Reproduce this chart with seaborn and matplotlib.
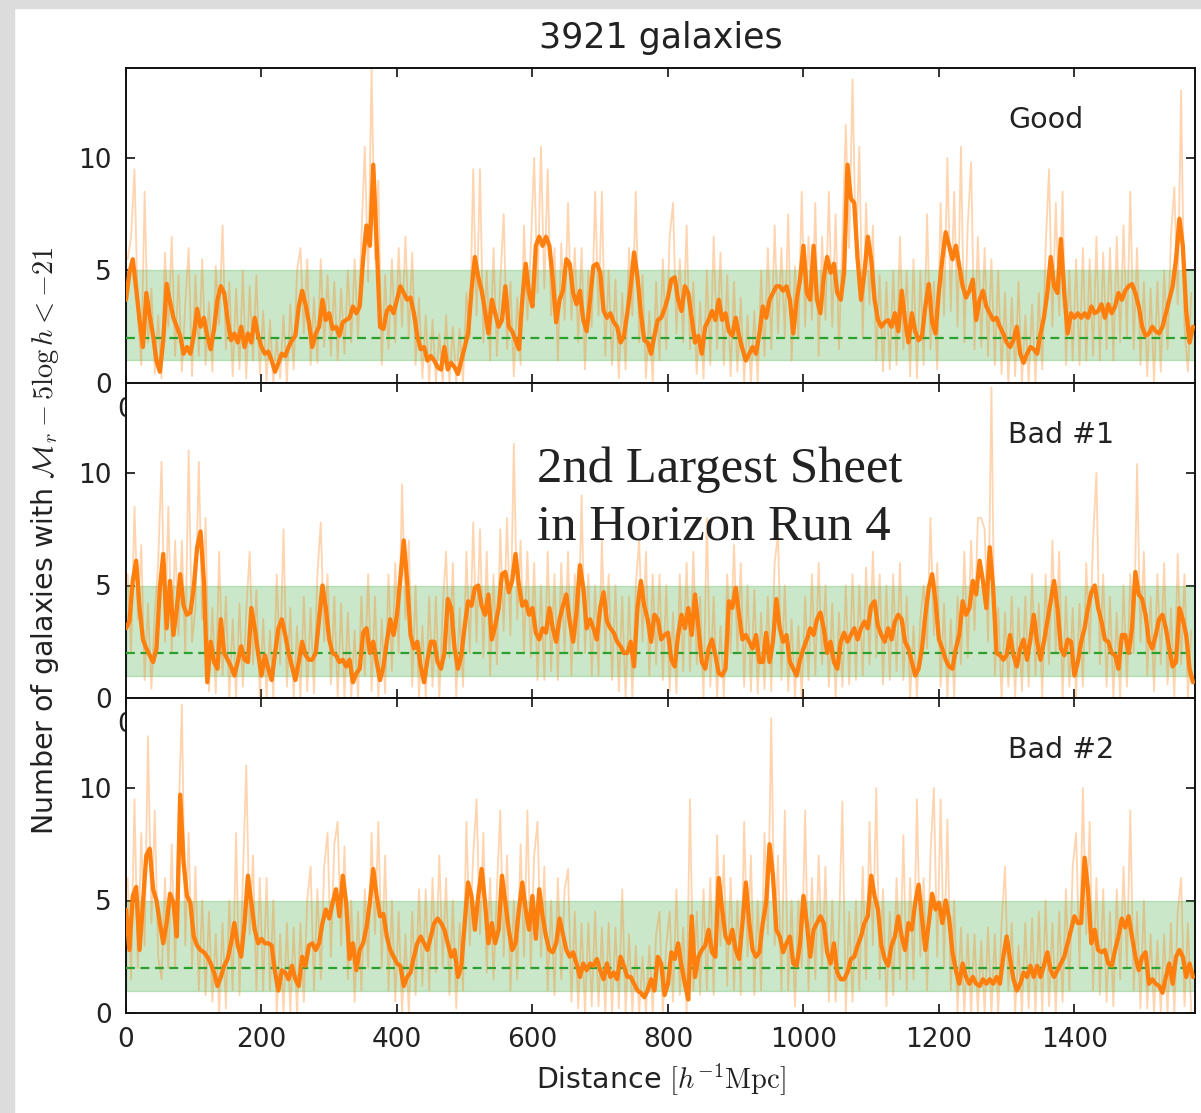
import numpy as np
import matplotlib
matplotlib.use("Agg")
import matplotlib.pyplot as plt
import seaborn as sns
from matplotlib.patches import Rectangle

sns.set_style("ticks")
plt.rcParams["font.family"] = ["DejaVu Sans"]
plt.rcParams["mathtext.fontset"] = "cm"

# ---- data (step 5 h^-1 Mpc) ----
step = 5
panel_names = ["Good", "Bad #1", "Bad #2"]
xticks = [0, 200, 400, 600, 800, 1000, 1200, 1400]
yticks = [0, 5, 10]
band_lo, band_hi, mean_level = 1, 5, 2

good_smooth = [
    3.7, 4.9, 5.5, 4.2, 2.8, 1.6, 4.0, 3.0, 2.1, 1.0,
    0.5, 1.9, 4.4, 3.6, 2.9, 2.5, 2.1, 1.3, 1.6, 1.3,
    2.1, 3.3, 2.5, 2.9, 2.1, 1.5, 2.4, 3.7, 4.3, 4.0,
    2.8, 1.9, 2.2, 1.8, 2.5, 1.6, 2.2, 1.8, 2.9, 2.1,
    1.6, 1.3, 1.4, 1.0, 0.5, 0.9, 1.3, 1.2, 1.6, 1.9,
    2.1, 3.4, 4.1, 3.5, 2.7, 1.6, 2.2, 2.5, 3.7, 2.8,
    3.1, 2.4, 2.5, 2.1, 2.7, 2.8, 2.9, 3.4, 3.1, 3.4,
    5.5, 7.0, 6.1, 9.7, 6.2, 2.5, 2.4, 3.2, 3.4, 3.1,
    3.7, 4.3, 4.0, 3.7, 3.8, 3.1, 2.1, 1.5, 1.6, 1.0,
    1.2, 1.0, 0.7, 0.6, 1.6, 0.6, 0.9, 0.7, 0.4, 1.0,
    1.6, 2.2, 4.1, 5.6, 4.7, 4.1, 3.2, 2.2, 3.7, 3.1,
    2.5, 2.8, 4.3, 2.5, 2.3, 1.9, 1.5, 3.7, 5.3, 4.0,
    3.4, 6.1, 6.5, 6.1, 6.5, 6.1, 4.6, 2.7, 3.7, 4.1,
    5.5, 5.3, 4.0, 3.5, 4.1, 2.8, 2.3, 3.7, 5.2, 5.3,
    4.9, 3.2, 2.9, 3.1, 2.7, 2.5, 1.8, 2.1, 3.1, 4.3,
    5.8, 4.7, 3.1, 1.9, 1.8, 1.3, 2.1, 2.8, 2.9, 3.3,
    3.8, 4.6, 4.7, 3.7, 3.2, 4.3, 4.0, 2.9, 1.8, 2.1,
    1.3, 2.5, 2.8, 3.2, 2.8, 3.7, 2.8, 3.1, 2.3, 2.1,
    2.9, 2.1, 1.5, 1.0, 1.3, 1.6, 1.3, 2.2, 3.4, 2.9,
    3.7, 4.0, 4.3, 4.3, 4.1, 4.3, 3.7, 2.2, 3.7, 4.6,
    6.1, 4.0, 3.7, 6.1, 3.7, 3.1, 4.7, 5.6, 4.9, 5.3,
    4.0, 3.7, 4.9, 9.7, 8.2, 8.0, 5.5, 3.7, 4.9, 6.5,
    5.5, 3.7, 2.8, 2.5, 2.7, 2.8, 2.5, 3.1, 2.3, 4.1,
    2.8, 1.8, 3.1, 2.3, 1.9, 2.1, 3.4, 4.4, 2.7, 2.2,
    4.1, 5.5, 6.7, 6.1, 5.5, 6.1, 5.2, 4.3, 3.8, 4.1,
    4.6, 2.8, 3.7, 4.1, 3.4, 3.1, 2.8, 2.9, 2.5, 2.2,
    1.8, 1.6, 1.9, 2.5, 1.3, 0.9, 1.3, 1.6, 1.5, 1.3,
    2.2, 2.9, 4.0, 5.6, 4.3, 4.0, 6.4, 4.0, 2.2, 3.1,
    2.9, 3.1, 2.9, 3.1, 2.9, 3.4, 3.1, 3.2, 3.5, 2.9,
    3.5, 3.1, 3.4, 4.0, 3.7, 4.1, 4.3, 4.4, 4.0, 3.4,
    2.5, 2.1, 2.2, 2.5, 2.3, 2.2, 2.5, 3.1, 3.7, 4.3,
    5.5, 7.3, 6.1, 3.2, 1.8, 2.5,
]
good_raw = [
    5.5, 6.5, 9.5, 3.0, 0.8, 8.5, 1.8, 4.2, 0.4, 3.0,
    0.2, 5.8, 2.5, 6.5, 1.2, 4.8, 0.5, 3.5, 6.0, 0.3,
    4.8, 1.2, 5.5, 0.8, 3.6, 0.5, 5.2, 2.6, 7.0, 1.5,
    4.5, 0.3, 4.2, 0.6, 5.0, 0.2, 4.3, 1.0, 4.8, 0.4,
    3.2, 0.1, 2.8, 0.0, 2.0, 0.2, 3.0, 0.0, 3.5, 0.6,
    5.0, 6.0, 2.2, 5.5, 0.8, 3.8, 0.9, 5.5, 1.6, 4.8,
    1.2, 4.5, 1.0, 4.2, 1.3, 5.0, 1.8, 5.5, 2.0, 6.5,
    10.5, 4.5, 14.0, 5.5, 9.0, 0.8, 4.8, 1.5, 5.5, 1.8,
    6.0, 2.5, 6.5, 2.0, 5.8, 0.8, 3.8, 0.2, 3.0, 0.0,
    2.8, 0.0, 2.2, 0.0, 3.0, 0.0, 2.5, 0.0, 2.4, 0.0,
    4.0, 2.0, 9.5, 3.0, 9.5, 1.8, 5.0, 1.0, 6.0, 1.2,
    4.5, 7.5, 1.5, 4.5, 0.3, 3.8, 0.8, 7.0, 2.8, 6.0,
    10.0, 4.0, 10.5, 4.2, 9.5, 3.0, 6.0, 1.0, 6.2, 2.8,
    8.0, 2.8, 6.0, 1.8, 6.0, 0.6, 5.0, 2.5, 8.5, 3.0,
    8.5, 1.2, 5.0, 0.8, 4.6, 0.2, 4.0, 0.6, 6.0, 3.0,
    8.5, 1.8, 4.8, 0.2, 3.2, 0.0, 4.5, 1.0, 5.5, 1.5,
    6.5, 8.0, 2.2, 5.5, 1.8, 7.0, 1.5, 4.5, 0.4, 3.6,
    0.2, 5.0, 0.8, 6.5, 1.5, 5.8, 0.8, 4.8, 0.3, 4.5,
    0.5, 3.8, 0.0, 3.0, 0.0, 3.2, 0.0, 5.0, 1.2, 6.0,
    1.5, 7.0, 2.2, 6.0, 2.0, 7.5, 1.0, 5.2, 2.0, 8.5,
    2.5, 6.5, 2.8, 8.0, 1.2, 6.5, 2.8, 8.5, 2.5, 7.5,
    1.5, 6.5, 11.5, 6.0, 13.5, 5.5, 10.5, 2.0, 8.0, 3.5,
    7.0, 1.0, 4.8, 0.5, 4.5, 0.6, 5.0, 0.8, 6.5, 1.5,
    5.0, 0.3, 5.5, 0.2, 5.0, 0.8, 7.5, 1.5, 4.5, 0.6,
    8.0, 3.0, 10.0, 3.2, 8.5, 2.5, 10.5, 1.8, 7.0, 9.8,
    1.5, 6.5, 1.6, 6.0, 1.2, 5.5, 0.8, 5.0, 0.4, 4.0,
    0.0, 3.8, 0.3, 4.5, 0.0, 3.0, 0.0, 3.5, 0.0, 4.0,
    0.6, 6.0, 9.5, 2.5, 8.0, 3.0, 8.5, 0.8, 5.0, 1.0,
    5.5, 0.8, 6.0, 1.0, 5.5, 1.2, 6.5, 1.0, 5.8, 1.5,
    6.0, 1.0, 6.5, 1.8, 7.0, 2.0, 8.5, 1.5, 6.0, 0.8,
    4.5, 0.3, 4.2, 0.0, 4.5, 0.5, 5.0, 1.5, 6.5, 8.7,
    3.5, 13.0, 2.5, 0.5, 4.0,
]

bad1_smooth = [
    3.1, 3.4, 5.2, 6.1, 4.0, 2.6, 2.2, 1.9, 1.6, 2.2,
    4.9, 6.4, 3.1, 5.2, 2.8, 4.0, 5.5, 4.1, 3.7, 3.8,
    4.9, 6.7, 7.4, 5.2, 0.7, 2.5, 1.6, 1.3, 3.5, 2.0,
    1.7, 1.4, 1.0, 1.6, 2.3, 1.7, 1.6, 4.0, 3.1, 2.0,
    1.0, 1.9, 1.3, 0.8, 2.0, 3.1, 3.5, 2.8, 2.0, 1.4,
    0.8, 1.6, 2.5, 1.9, 1.7, 1.7, 2.0, 3.5, 5.0, 4.0,
    2.6, 2.0, 1.9, 1.6, 1.7, 1.4, 1.7, 0.7, 1.1, 1.3,
    2.9, 3.1, 2.0, 2.5, 1.6, 0.8, 1.4, 2.5, 3.5, 2.8,
    3.7, 5.3, 7.0, 5.2, 2.8, 2.2, 2.5, 1.4, 0.7, 1.7,
    2.5, 2.5, 1.6, 1.3, 2.0, 4.4, 4.0, 2.2, 1.3, 1.9,
    3.2, 4.3, 4.1, 4.9, 5.0, 4.1, 3.7, 4.6, 2.6, 3.2,
    4.0, 5.5, 5.6, 4.7, 5.2, 6.4, 5.0, 4.1, 4.3, 3.7,
    4.0, 2.9, 2.6, 3.1, 2.9, 4.0, 3.1, 2.5, 3.5, 4.1,
    4.6, 3.4, 2.5, 3.8, 5.9, 4.9, 3.1, 3.5, 3.1, 2.6,
    4.0, 4.7, 3.4, 3.1, 2.9, 2.5, 2.3, 2.0, 2.0, 2.5,
    1.4, 4.0, 5.2, 4.1, 3.5, 2.5, 3.7, 3.5, 2.6, 2.8,
    2.9, 1.7, 1.4, 2.8, 3.7, 3.1, 4.0, 2.8, 4.6, 3.1,
    1.6, 1.3, 2.2, 2.6, 1.9, 1.1, 1.0, 1.3, 4.3, 4.0,
    4.9, 3.7, 2.6, 2.8, 2.5, 2.2, 2.8, 1.6, 1.6, 2.9,
    1.6, 2.5, 4.4, 3.1, 2.5, 2.8, 1.6, 1.3, 1.0, 1.7,
    2.2, 2.6, 3.1, 2.8, 3.5, 3.8, 3.1, 2.0, 2.5, 1.6,
    1.3, 2.5, 2.9, 2.5, 2.8, 3.1, 2.6, 3.1, 3.4, 3.1,
    4.1, 4.3, 3.2, 2.8, 2.5, 3.1, 2.6, 3.4, 3.7, 3.5,
    2.5, 2.2, 1.6, 1.0, 1.3, 2.2, 3.7, 4.9, 5.5, 4.3,
    2.6, 2.2, 1.7, 1.4, 1.3, 2.2, 2.8, 4.3, 3.7, 4.0,
    5.2, 4.6, 6.1, 5.2, 4.0, 6.7, 4.9, 2.0, 1.9, 1.7,
    1.9, 2.8, 1.9, 1.4, 2.2, 2.6, 1.7, 2.6, 3.7, 2.5,
    1.7, 2.5, 3.4, 4.3, 5.2, 4.0, 2.2, 1.9, 2.6, 2.5,
    1.0, 1.6, 2.5, 3.1, 4.0, 4.7, 5.0, 4.0, 3.4, 2.6,
    2.5, 2.0, 1.9, 1.3, 2.8, 2.8, 2.0, 3.1, 5.6, 4.6,
    4.4, 3.7, 2.5, 2.2, 2.8, 3.5, 3.7, 3.1, 2.2, 1.4,
    1.6, 4.0, 3.5, 2.8, 1.3, 0.7,
]
bad1_raw = [
    5.5, 2.0, 8.5, 3.5, 6.8, 0.8, 4.2, 0.4, 3.8, 6.0,
    10.5, 2.5, 8.5, 2.0, 7.0, 2.8, 7.0, 2.0, 11.0, 2.5,
    4.0, 10.5, 3.5, 8.0, 0.3, 4.0, 0.2, 6.5, 1.0, 4.5,
    0.0, 3.5, 0.0, 4.2, 0.5, 3.8, 6.5, 1.5, 4.8, 0.0,
    3.5, 0.0, 3.0, 0.0, 5.5, 1.5, 7.5, 0.5, 4.0, 0.0,
    3.2, 0.0, 4.5, 0.3, 4.0, 0.2, 5.5, 7.8, 2.5, 5.5,
    0.6, 4.5, 0.0, 4.2, 0.0, 3.8, 0.0, 3.0, 0.0, 4.5,
    1.0, 5.5, 0.3, 4.5, 0.0, 3.5, 0.2, 5.5, 1.2, 6.0,
    2.0, 9.5, 3.5, 7.0, 0.5, 5.0, 0.0, 3.2, 0.0, 4.5,
    0.5, 4.5, 0.0, 4.0, 6.5, 1.8, 6.0, 0.0, 4.0, 0.5,
    6.5, 2.0, 7.8, 2.5, 7.5, 1.8, 6.5, 1.0, 5.5, 1.5,
    7.5, 3.0, 8.0, 2.8, 11.3, 3.5, 7.0, 2.0, 6.5, 1.8,
    6.0, 0.8, 5.0, 0.8, 6.5, 1.2, 5.5, 0.8, 6.0, 2.0,
    6.5, 1.0, 5.5, 2.0, 9.0, 2.0, 5.5, 1.0, 5.0, 1.0,
    7.0, 2.0, 5.5, 0.8, 5.0, 0.3, 4.5, 0.0, 4.5, 0.0,
    5.0, 7.0, 2.5, 6.5, 1.0, 5.5, 1.5, 5.5, 0.8, 5.0,
    0.3, 3.8, 0.2, 5.5, 1.2, 6.0, 1.2, 6.5, 1.5, 4.5,
    0.0, 8.0, 0.5, 4.5, 0.0, 3.2, 0.0, 5.5, 2.0, 6.8,
    2.0, 6.0, 0.5, 5.0, 0.3, 4.8, 0.2, 3.8, 0.4, 4.5,
    0.3, 6.0, 7.3, 0.8, 5.0, 0.3, 3.5, 0.0, 3.2, 0.0,
    4.5, 0.8, 5.5, 1.0, 6.0, 1.5, 5.0, 0.5, 4.2, 0.0,
    3.8, 0.5, 5.0, 0.6, 5.5, 0.8, 5.0, 1.0, 5.8, 1.5,
    6.5, 1.8, 5.5, 0.6, 5.0, 0.8, 5.5, 1.2, 6.0, 0.8,
    4.5, 0.0, 3.2, 0.0, 3.5, 5.0, 2.2, 8.0, 2.8, 6.0,
    0.5, 4.2, 0.0, 3.5, 0.0, 4.5, 1.5, 6.5, 1.8, 7.0,
    3.0, 8.0, 8.0, 7.5, 2.5, 13.8, 1.0, 4.0, 0.0, 3.8,
    0.5, 4.5, 0.0, 4.0, 0.3, 4.5, 0.5, 5.5, 1.0, 4.2,
    0.0, 5.5, 1.5, 7.0, 2.0, 6.5, 0.0, 4.5, 0.5, 4.0,
    0.0, 4.2, 0.5, 6.0, 2.0, 7.0, 10.0, 1.5, 5.5, 0.5,
    4.5, 0.0, 3.8, 0.0, 5.0, 0.5, 5.5, 2.0, 10.4, 2.5,
    6.5, 1.0, 4.5, 0.3, 5.5, 1.5, 6.0, 0.6, 4.0, 0.0,
    6.4, 1.5, 5.5, 0.0, 3.0,
]

bad2_smooth = [
    4.6, 2.8, 5.2, 5.6, 2.8, 4.9, 7.0, 7.3, 5.5, 5.0,
    4.0, 3.1, 4.0, 5.3, 4.9, 3.4, 9.7, 6.7, 5.2, 4.9,
    3.4, 3.0, 2.8, 2.7, 2.5, 2.2, 1.8, 1.2, 1.6, 2.1,
    2.4, 3.1, 4.0, 3.0, 2.5, 4.0, 6.1, 4.9, 3.7, 3.1,
    3.3, 3.1, 3.1, 3.0, 1.8, 1.0, 1.9, 1.8, 1.5, 2.1,
    1.5, 1.2, 2.5, 2.1, 3.0, 3.1, 2.8, 3.1, 4.0, 4.6,
    4.2, 4.9, 5.5, 4.3, 6.1, 4.9, 2.4, 3.1, 1.9, 2.8,
    3.1, 3.8, 4.9, 6.4, 5.2, 4.3, 4.4, 3.4, 2.8, 2.5,
    2.2, 2.1, 1.2, 1.6, 1.8, 2.5, 3.1, 3.4, 3.1, 2.8,
    3.4, 4.0, 4.2, 4.0, 3.7, 3.1, 2.5, 2.8, 1.6, 2.1,
    4.0, 5.8, 5.2, 3.7, 5.2, 6.4, 4.9, 3.1, 4.0, 3.1,
    3.7, 6.1, 4.9, 3.7, 2.8, 3.1, 4.6, 5.8, 4.6, 3.7,
    5.2, 3.3, 5.5, 4.3, 3.4, 2.8, 2.7, 3.1, 4.2, 3.5,
    2.8, 2.5, 2.7, 2.2, 1.6, 2.2, 1.9, 2.2, 2.1, 2.4,
    1.9, 1.5, 2.2, 1.6, 1.8, 1.5, 2.5, 2.1, 1.6, 1.6,
    1.3, 1.0, 0.9, 0.7, 1.0, 1.5, 1.0, 2.5, 2.2, 0.8,
    1.3, 2.7, 2.4, 3.1, 2.1, 1.3, 0.6, 4.3, 1.6, 2.5,
    2.8, 3.0, 3.7, 2.7, 2.5, 6.0, 4.6, 3.4, 3.1, 3.7,
    2.8, 2.4, 4.0, 5.8, 4.0, 2.8, 2.5, 2.7, 4.0, 4.9,
    7.5, 6.1, 3.7, 3.4, 2.7, 3.1, 3.4, 2.2, 2.1, 3.1,
    5.2, 4.0, 2.5, 3.7, 4.0, 4.3, 4.0, 2.7, 2.2, 3.1,
    1.8, 1.5, 1.5, 1.8, 2.4, 2.5, 3.0, 3.4, 4.0, 4.3,
    6.1, 5.2, 4.6, 3.0, 2.4, 2.1, 3.0, 3.4, 4.3, 3.4,
    2.8, 4.0, 3.7, 4.9, 5.7, 4.2, 2.8, 4.0, 5.3, 4.6,
    4.9, 4.0, 5.0, 4.2, 2.7, 1.9, 1.3, 2.2, 1.6, 1.3,
    1.6, 1.3, 1.2, 1.5, 1.3, 1.5, 1.3, 1.6, 1.3, 2.5,
    3.4, 2.4, 1.5, 1.0, 1.3, 1.8, 1.6, 2.1, 1.6, 2.1,
    1.6, 2.1, 2.7, 1.9, 1.6, 1.9, 2.2, 2.5, 3.1, 3.7,
    4.3, 4.0, 4.0, 6.9, 5.5, 3.1, 3.7, 2.8, 2.7, 2.8,
    2.2, 2.1, 2.8, 3.4, 4.2, 3.8, 4.3, 3.4, 2.5, 1.9,
    2.5, 2.7, 1.3, 1.5, 1.3, 1.2, 0.9, 1.6, 2.2, 1.3,
    2.5, 2.8, 2.5, 1.6, 2.2, 1.6,
]
bad2_raw = [
    6.0, 1.5, 9.5, 2.0, 8.0, 3.0, 12.3, 4.0, 9.0, 2.5,
    1.5, 6.0, 2.0, 7.5, 2.0, 8.5, 13.7, 3.0, 8.0, 2.0,
    6.5, 1.0, 5.0, 0.8, 4.5, 0.5, 3.5, 0.0, 4.0, 0.2,
    5.0, 1.0, 8.0, 0.8, 6.0, 11.0, 3.5, 7.0, 1.0, 6.0,
    1.0, 6.0, 1.0, 5.0, 0.0, 3.5, 0.0, 4.0, 0.0, 3.8,
    0.0, 4.0, 0.5, 5.0, 6.5, 1.0, 5.5, 1.5, 6.5, 8.0,
    2.5, 7.5, 8.5, 3.0, 7.4, 1.5, 5.0, 0.5, 4.5, 1.0,
    5.5, 2.0, 8.0, 3.5, 8.5, 2.0, 7.0, 1.0, 5.0, 0.5,
    4.5, 0.0, 3.5, 0.0, 4.5, 0.8, 5.5, 1.2, 5.5, 1.0,
    6.0, 1.8, 7.0, 2.0, 6.0, 0.8, 5.0, 0.2, 4.0, 1.0,
    8.5, 3.0, 7.0, 9.5, 3.5, 8.0, 1.8, 6.0, 1.5, 5.5,
    9.0, 2.5, 7.0, 1.0, 5.0, 1.5, 7.5, 2.5, 9.0, 2.0,
    7.0, 8.5, 2.5, 6.5, 1.0, 5.0, 0.8, 6.0, 1.5, 5.5,
    6.4, 0.5, 4.5, 0.2, 4.0, 0.0, 4.0, 0.3, 4.5, 0.3,
    3.8, 0.0, 4.0, 0.0, 3.8, 0.2, 5.5, 0.0, 3.5, 0.0,
    3.0, 0.0, 2.5, 0.0, 3.0, 0.0, 3.5, 4.5, 0.0, 3.0,
    4.5, 0.5, 5.5, 0.8, 3.8, 0.0, 9.5, 1.0, 4.5, 0.8,
    5.5, 1.0, 6.0, 0.8, 7.9, 3.0, 7.0, 1.2, 6.0, 1.0,
    5.0, 0.8, 8.5, 2.5, 7.0, 0.8, 5.0, 1.0, 8.0, 3.5,
    13.1, 3.0, 7.0, 1.0, 9.0, 1.0, 5.0, 0.3, 5.0, 2.0,
    9.0, 1.0, 6.0, 1.5, 7.0, 2.0, 6.5, 0.5, 5.0, 0.5,
    3.8, 9.4, 0.0, 4.5, 0.5, 5.0, 1.0, 6.5, 1.5, 8.5,
    3.0, 10.0, 1.5, 5.5, 0.3, 4.5, 0.8, 6.0, 1.5, 7.9,
    1.0, 6.0, 1.5, 9.5, 2.5, 6.0, 1.0, 7.0, 10.0, 2.5,
    9.5, 2.0, 8.6, 1.0, 5.0, 0.0, 3.8, 0.0, 3.5, 0.0,
    3.5, 0.0, 3.2, 0.0, 3.8, 0.0, 3.5, 0.0, 4.0, 6.5,
    1.0, 4.0, 0.0, 3.0, 0.0, 4.0, 0.2, 4.2, 0.0, 4.5,
    0.0, 5.0, 0.3, 4.0, 0.0, 4.5, 0.5, 5.5, 1.0, 6.5,
    8.0, 2.0, 10.0, 3.5, 8.5, 1.0, 6.0, 0.8, 5.5, 0.5,
    4.5, 0.3, 5.5, 1.5, 6.5, 2.0, 9.0, 1.0, 4.5, 0.2,
    5.0, 0.2, 3.5, 0.0, 3.2, 0.0, 3.5, 0.0, 4.0, 0.0,
    4.5, 6.0, 0.3, 4.0, 0.0,
]

raw_series = [good_raw, bad1_raw, bad2_raw]
smooth_series = [good_smooth, bad1_smooth, bad2_smooth]

orange = "#ff7f0e"
green = "#2ca02c"

W, H = 1201, 1113
fig = plt.figure(figsize=(W / 100, H / 100), dpi=100)
fig.patch.set_facecolor("white")
# light grey frame on the left / top edge of the screenshot
fig.patches.append(Rectangle((0, 0), 14 / W, 1, transform=fig.transFigure,
                             color="#dcdcdc", zorder=-10))
fig.patches.append(Rectangle((0, 1 - 8 / H), 1, 8 / H, transform=fig.transFigure,
                             color="#dcdcdc", zorder=-10))

left, right = 126 / W, 1195 / W
top, bottom = 1 - 68 / H, 1 - 1013 / H
ph = (top - bottom) / 3

axes = []
for i in range(3):
    ax = fig.add_axes([left, top - (i + 1) * ph, right - left, ph])
    axes.append(ax)

for ax, name, raw, smooth in zip(axes, panel_names, raw_series, smooth_series):
    raw_x = np.arange(len(raw)) * step + step / 2
    smooth_x = np.arange(len(smooth)) * step
    ax.axhspan(band_lo, band_hi, color=green, alpha=0.25, lw=1, zorder=1)
    sns.lineplot(x=raw_x, y=raw, ax=ax, color=orange, alpha=0.33, lw=1.3,
                 zorder=2, legend=False)
    ax.axhline(mean_level, color=green, ls="--", lw=1.6, dashes=(4, 2.5), zorder=3)
    sns.lineplot(x=smooth_x, y=smooth, ax=ax, color=orange, lw=3.1,
                 zorder=4, legend=False)
    ax.set_xlim(0, 1578)
    ax.set_ylim(0, 14)
    ax.set_xticks(xticks)
    ax.set_yticks(yticks)
    ax.tick_params(direction="in", top=True, right=True, length=6.5, width=1.3,
                   labelsize=19, pad=10, colors="#222222")
    for sp in ax.spines.values():
        sp.set_linewidth(1.4)
        sp.set_color("#111111")
    ax.set_xlabel("")
    ax.set_ylabel("")
    ax.text(0.825, 0.835, name, transform=ax.transAxes, ha="left", va="center",
            fontsize=20.5, color="#222222")

axes[-1].set_xlabel(r"Distance $[h^{-1}\mathrm{Mpc}]$", fontsize=20.5, labelpad=7,
                    color="#222222")

fig.text((left + right) / 2, 1 - 38 / H, "3921 galaxies", ha="center", va="center",
         fontsize=25, color="#222222")
fig.text(45 / W, (top + bottom) / 2,
         r"Number of galaxies with $\mathcal{M}_r - 5\log h < -21$",
         rotation=90, ha="center", va="center", fontsize=20.5, color="#222222")

fig.text(537 / W, 1 - 482 / H, "2nd Largest Sheet", ha="left", va="baseline",
         fontsize=36.5, family=["Liberation Serif", "DejaVu Serif"], color="#222222")
fig.text(537 / W, 1 - 539 / H, "in Horizon Run 4", ha="left", va="baseline",
         fontsize=36.5, family=["Liberation Serif", "DejaVu Serif"], color="#222222")

fig.savefig("out.png", dpi=100)
